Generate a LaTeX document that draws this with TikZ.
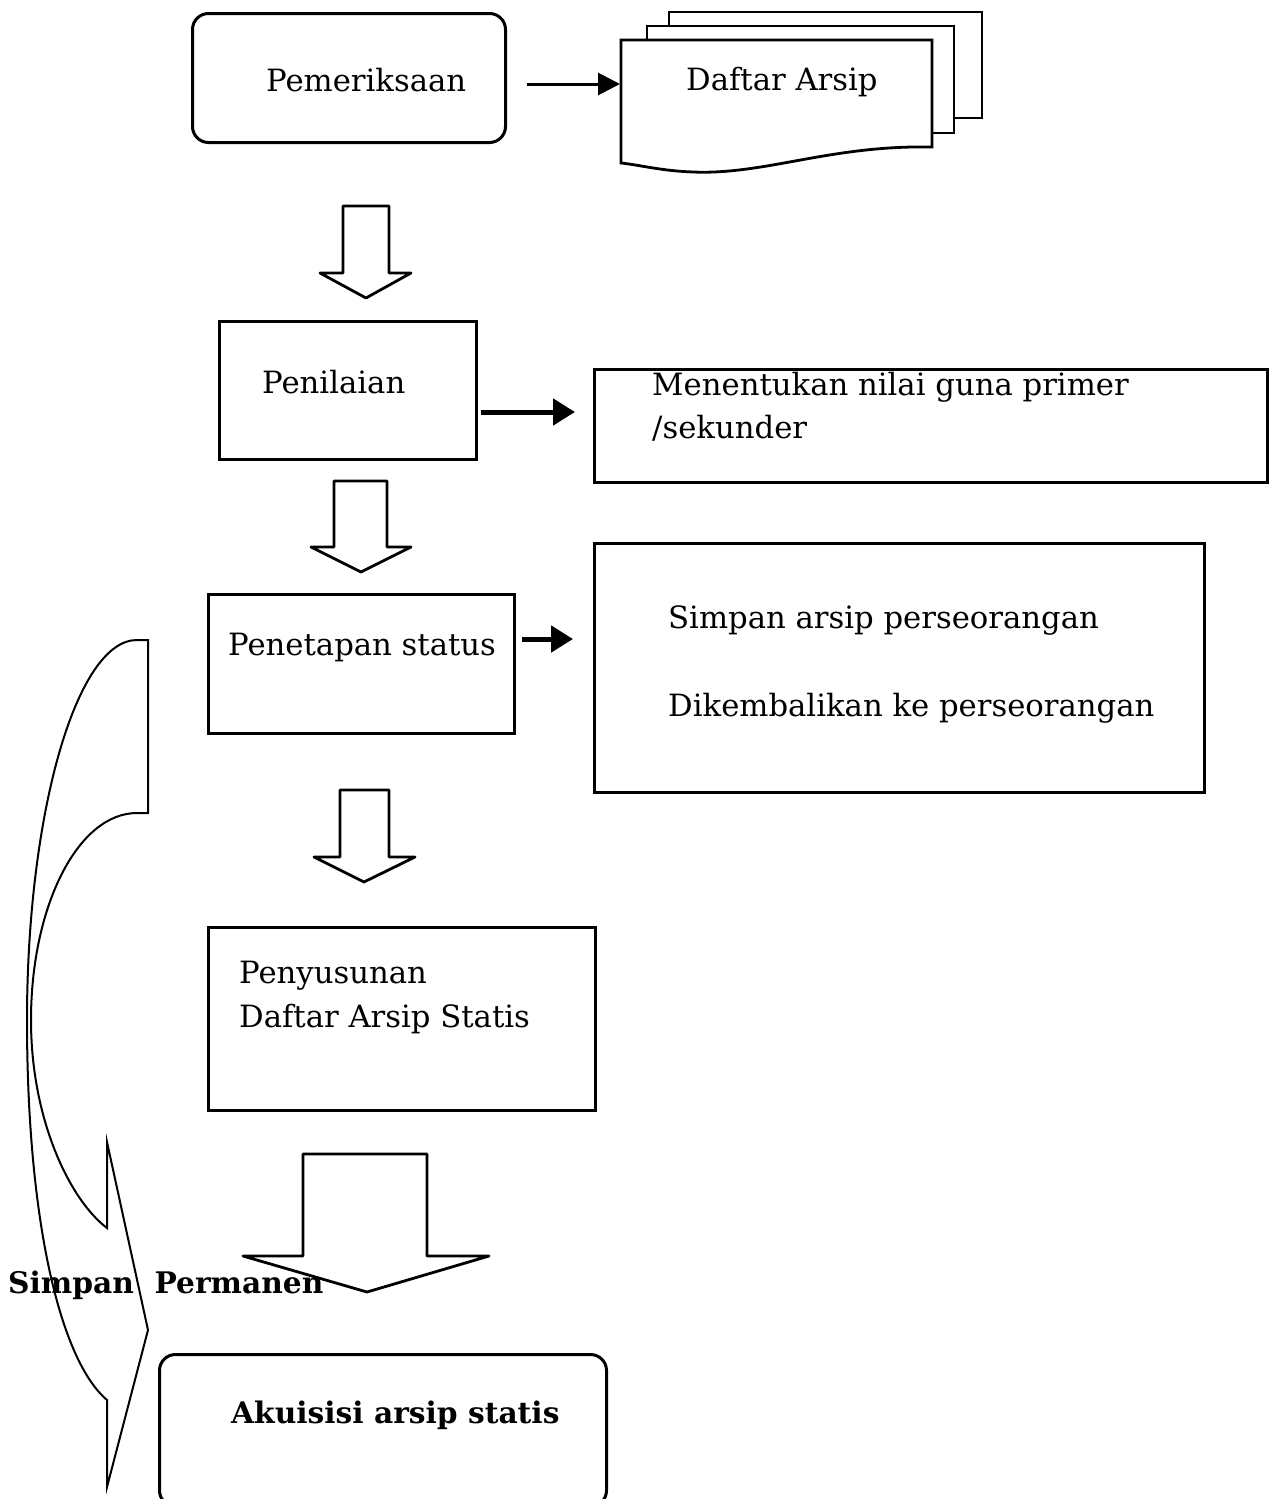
\documentclass[tikz,border=0pt]{standalone}
\usepackage{fontspec}
\setmainfont{DejaVu Serif}
\usetikzlibrary{arrows.meta}
\tikzset{
  boxline/.style={draw, line width=3pt, line cap=round, inner sep=0pt, anchor=north west},
  sqbox/.style={boxline, rectangle},
  rbox/.style={boxline, rectangle, rounded corners=16pt},
  txt/.style={inner sep=0pt, anchor=base west, font=\fontsize{30.7}{36}\selectfont},
  btxt/.style={inner sep=0pt, anchor=base west, font=\fontsize{29.7}{35}\selectfont\bfseries},
  blockarrow/.style={draw, line width=2.8pt, line join=round},
  docshape/.style={draw, line width=2.8pt, fill=white},
  thinarr/.style={line width=3pt, -{Triangle[length=22pt,width=22pt]}},
  thickarr/.style={line width=5pt, -{Triangle[length=22pt,width=26pt]}},
  curvearrow/.style={draw, line width=2pt, line join=miter}
}
\begin{document}
\begin{tikzpicture}[x=1pt,y=-1pt]
\useasboundingbox (0,0) rectangle (1269,1499);

% ---------- Pemeriksaan ----------
\node[rbox, minimum width=313pt, minimum height=129pt] (pem) at (191,12) {};
\node[txt] (tpem) at (266,91) {Pemeriksaan};

% ---------- Daftar Arsip (multi document) ----------
\draw[docshape] (669,12) -- (982,12) -- (982,118) -- (954,118) -- (954,26) -- (669,26) -- cycle;
\draw[docshape] (647,26) -- (954,26) -- (954,133) -- (932,133) -- (932,40) -- (647,40) -- cycle;
\draw[docshape] (621,40) -- (932,40) -- (932,147)
   .. controls (830,145) and (765,175) .. (693,172)
   .. controls (662,171) and (640,165) .. (621,163) -- cycle;
\coordinate (docin) at (620,84);
\node[txt] (tdoc) at (686,90) {Daftar Arsip};

\coordinate (a1s) at (527,84);
\draw[thinarr] (a1s) -- (docin);

% ---------- block arrow 1 ----------
\draw[blockarrow] (343,206) -- (389,206) -- (389,273) -- (411,273) -- (366,298) -- (320,273) -- (343,273) -- cycle;

% ---------- Penilaian ----------
\node[sqbox, minimum width=257pt, minimum height=138pt] (pen) at (218,320) {};
\node[txt] (tpen) at (262,393) {Penilaian};

\node[sqbox, minimum width=673pt, minimum height=113pt] (nilai) at (593,368) {};
\node[txt] (tnil1) at (652,395) {Menentukan nilai guna primer};
\node[txt] (tnil2) at (652,438) {/sekunder};

\coordinate (a2s) at (481,412);
\coordinate (a2e) at (575,412);
\draw[thickarr] (a2s) -- (a2e);

% ---------- block arrow 2 ----------
\draw[blockarrow] (334,481) -- (387,481) -- (387,547) -- (411,547) -- (361,572) -- (311,547) -- (334,547) -- cycle;

% ---------- Penetapan status ----------
\node[sqbox, minimum width=306pt, minimum height=139pt] (pst) at (207,593) {};
\node[txt] (tpst) at (228,655) {Penetapan status};

\node[sqbox, minimum width=610pt, minimum height=249pt] (simp) at (593,542) {};
\node[txt] (tsim1) at (668,628) {Simpan arsip perseorangan};
\node[txt] (tsim2) at (668,716) {Dikembalikan ke perseorangan};

\coordinate (a3s) at (522,639);
\coordinate (a3e) at (573,639);
\draw[thickarr] (a3s) -- (a3e);

% ---------- block arrow 3 ----------
\draw[blockarrow] (340,790) -- (389,790) -- (389,857) -- (415,857) -- (364,882) -- (314,857) -- (340,857) -- cycle;

% ---------- Penyusunan ----------
\node[sqbox, minimum width=387pt, minimum height=183pt] (pny) at (207,926) {};
\node[txt] (tpny1) at (239,983) {Penyusunan};
\node[txt] (tpny2) at (239,1027) {Daftar Arsip Statis};

% ---------- curved arrow (left) ----------
\draw[curvearrow] (148,640) -- (137,640)
   .. controls (76,640) and (27,815) .. (27,1020)
   .. controls (27,1220) and (60,1360) .. (107,1400)
   -- (107,1487) -- (148,1330) -- (107,1142) -- (107,1228)
   .. controls (70,1200) and (31,1120) .. (31,1020)
   .. controls (31,906) and (78,813) .. (137,813)
   -- (148,813) -- cycle;

% ---------- block arrow 4 ----------
\draw[blockarrow] (303,1154) -- (427,1154) -- (427,1256) -- (489,1256) -- (367,1292) -- (243,1256) -- (303,1256) -- cycle;

\node[btxt] (tperm) at (8,1293) {Simpan\ \ Permanen};

% ---------- Akuisisi ----------
\node[rbox, minimum width=447pt, minimum height=152pt] (aku) at (158,1353) {};
\node[btxt] (taku) at (231,1423) {Akuisisi arsip statis};

\end{tikzpicture}
\end{document}
